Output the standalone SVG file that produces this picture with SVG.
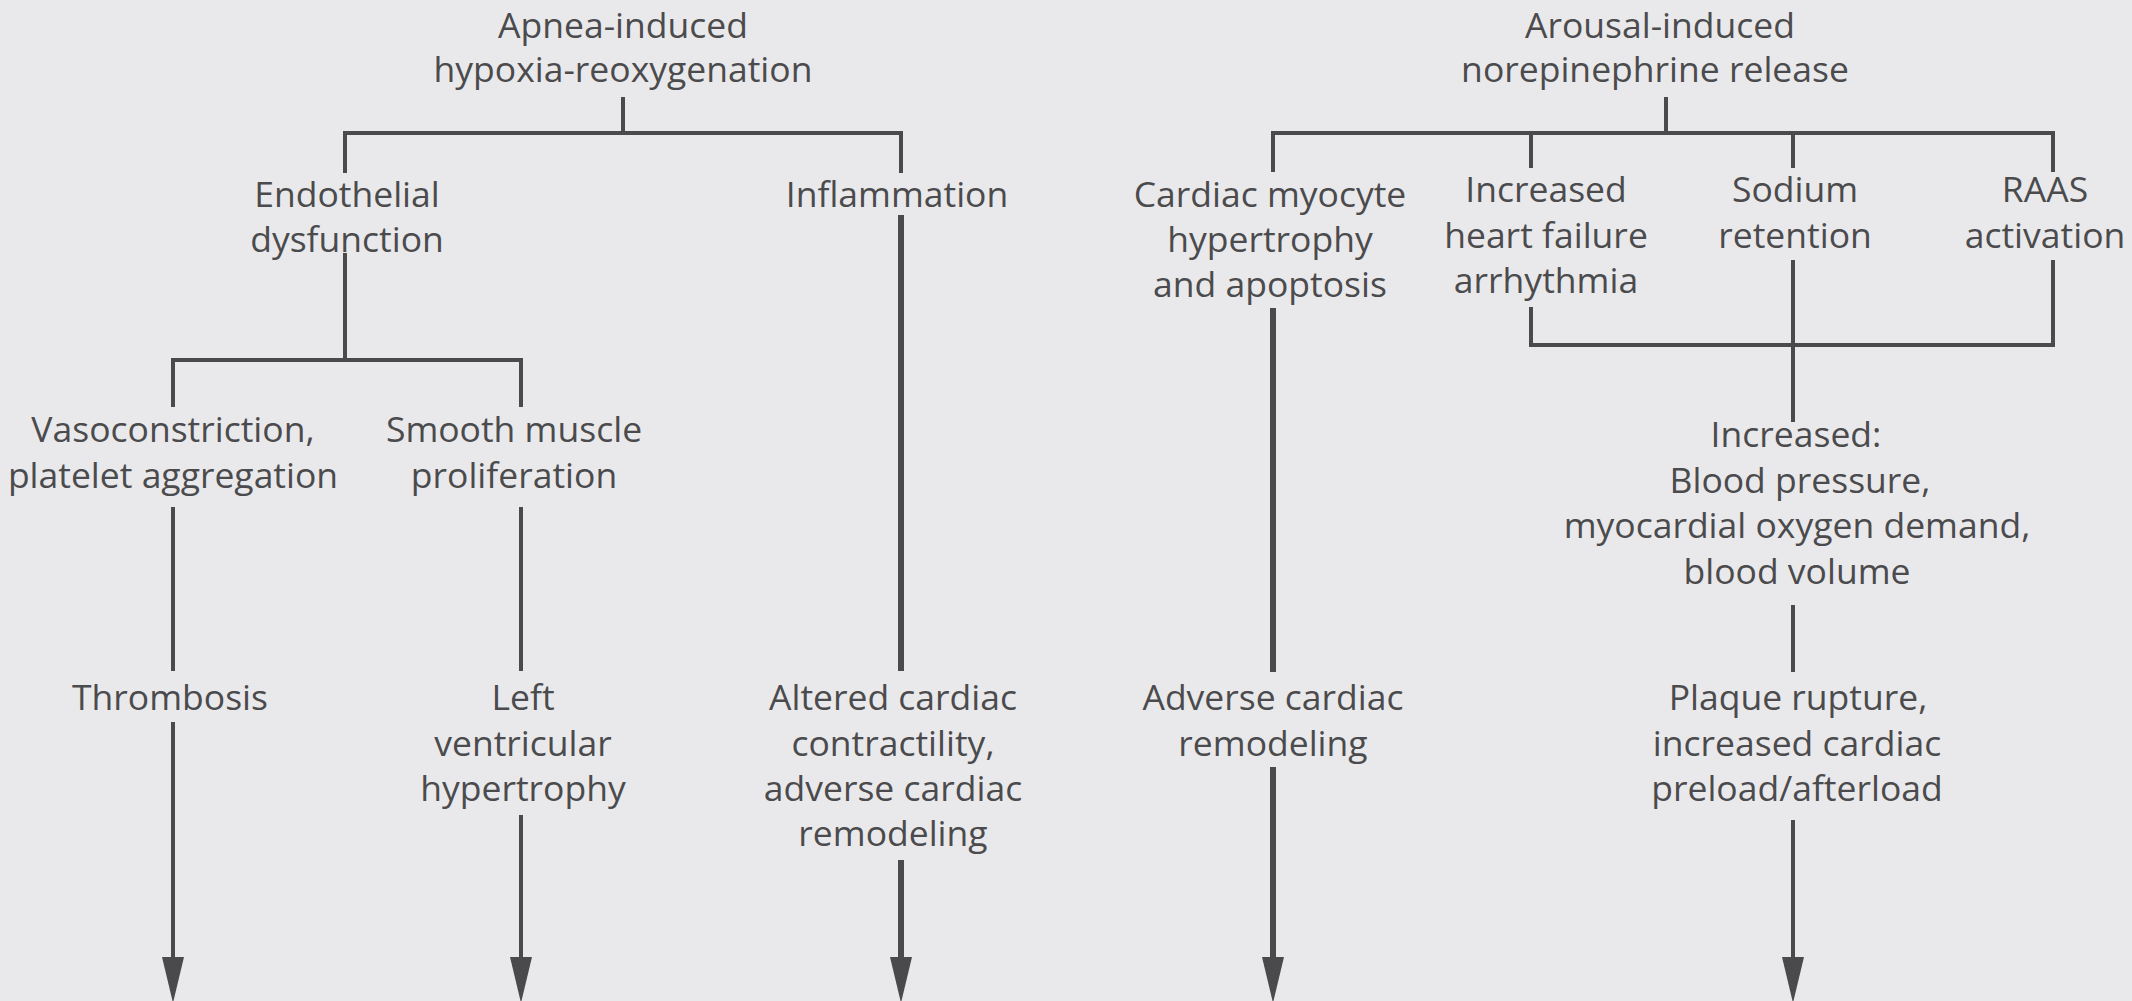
<svg xmlns="http://www.w3.org/2000/svg" width="2132" height="1001" viewBox="0 0 2132 1001">
<style>
.t{font-family:"Open Sans","Liberation Sans",sans-serif;font-size:35.5px;fill:#4b4b4d;text-anchor:middle}
.c{stroke:#4a4a4c;fill:none;stroke-width:4}
.k{stroke:#4a4a4c;fill:none;stroke-width:6}
</style>
<defs>
<marker id="ah" markerUnits="userSpaceOnUse" markerWidth="46" markerHeight="24" refX="0" refY="11" orient="auto" viewBox="0 0 46 22">
<path d="M0,0 L46,11 L0,22 z" fill="#4a4a4c"/>
</marker>
</defs>
<rect width="2132" height="1001" fill="#e9e9eb"/>
<g id="connectors">
<path class="c" d="M623,97 V133 M345,173 V133 H901 V173"/>
<path class="c" d="M345,253 V360 M173,407 V360 H521 V407"/>
<path class="k" d="M901,215 V671"/>
<path class="c" d="M173,507 V671 M521,507 V671"/>
<path class="c" d="M173,722 V957" marker-end="url(#ah)"/>
<path class="c" d="M521,815 V957" marker-end="url(#ah)"/>
<path class="k" d="M901,860 V957" marker-end="url(#ah)"/>
<path class="c" d="M1666,97 V133 M1273,172 V133 H2053 V172 M1531,133 V168 M1793,133 V168"/>
<path class="k" d="M1273,308 V672"/>
<path class="k" d="M1273,767 V957" marker-end="url(#ah)"/>
<path class="c" d="M1531,307 V345 H2053 V260"/>
<path class="c" d="M1793,260 V422"/>
<path class="c" d="M1793,605 V672"/>
<path class="c" d="M1793,820 V957" marker-end="url(#ah)"/>
</g>
<g id="n-apnea"><text class="t" x="623" y="38">Apnea-induced</text><text class="t" x="623" y="82">hypoxia-reoxygenation</text></g>
<g id="n-endothelial"><text class="t" x="347" y="207">Endothelial</text><text class="t" x="347" y="252">dysfunction</text></g>
<g id="n-inflammation"><text class="t" x="897" y="207">Inflammation</text></g>
<g id="n-vaso"><text class="t" x="173" y="442">Vasoconstriction,</text><text class="t" x="173" y="488">platelet aggregation</text></g>
<g id="n-smooth"><text class="t" x="514" y="442">Smooth muscle</text><text class="t" x="514" y="488">proliferation</text></g>
<g id="n-thrombosis"><text class="t" x="170" y="710">Thrombosis</text></g>
<g id="n-lvh"><text class="t" x="523" y="710">Left</text><text class="t" x="523" y="756">ventricular</text><text class="t" x="523" y="801">hypertrophy</text></g>
<g id="n-altered"><text class="t" x="893" y="710">Altered cardiac</text><text class="t" x="893" y="756">contractility,</text><text class="t" x="893" y="801">adverse cardiac</text><text class="t" x="893" y="846">remodeling</text></g>
<g id="n-arousal"><text class="t" x="1660" y="38">Arousal-induced</text><text class="t" x="1655" y="82">norepinephrine release</text></g>
<g id="n-myocyte"><text class="t" x="1270" y="207">Cardiac myocyte</text><text class="t" x="1270" y="252">hypertrophy</text><text class="t" x="1270" y="297">and apoptosis</text></g>
<g id="n-hf"><text class="t" x="1546" y="202">Increased</text><text class="t" x="1546" y="248">heart failure</text><text class="t" x="1546" y="293">arrhythmia</text></g>
<g id="n-sodium"><text class="t" x="1795" y="202">Sodium</text><text class="t" x="1795" y="248">retention</text></g>
<g id="n-raas"><text class="t" x="2045" y="202">RAAS</text><text class="t" x="2045" y="248">activation</text></g>
<g id="n-increased"><text class="t" x="1796" y="447">Increased:</text><text class="t" x="1800" y="493">Blood pressure,</text><text class="t" x="1797" y="538">myocardial oxygen demand,</text><text class="t" x="1797" y="584">blood volume</text></g>
<g id="n-adverse"><text class="t" x="1273" y="710">Adverse cardiac</text><text class="t" x="1273" y="756">remodeling</text></g>
<g id="n-plaque"><text class="t" x="1798" y="710">Plaque rupture,</text><text class="t" x="1797" y="756">increased cardiac</text><text class="t" x="1797" y="801">preload/afterload</text></g>
</svg>
